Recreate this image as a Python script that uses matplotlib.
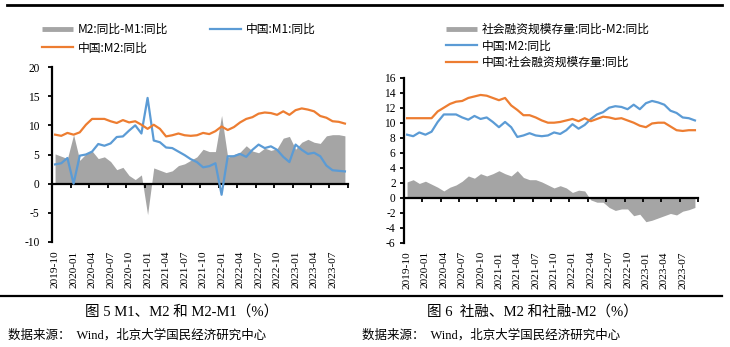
import numpy as np
import pandas as pd
import matplotlib
matplotlib.use("Agg")
import matplotlib.pyplot as plt
from matplotlib.lines import Line2D

plt.rcParams["font.family"] = ["Liberation Serif", "Noto Sans CJK SC"]
plt.rcParams["axes.unicode_minus"] = False

# Monthly observations, 2019-10 .. 2023-09
months = [p.strftime("%Y-%m") for p in pd.period_range("2019-10", "2023-09", freq="M")]
tick_labels = ["2019-10", "2020-01", "2020-04", "2020-07", "2020-10",
               "2021-01", "2021-04", "2021-07", "2021-10", "2022-01",
               "2022-04", "2022-07", "2022-10", "2023-01", "2023-04",
               "2023-07"]

m1_yoy = [3.3, 3.5, 4.4, 0.0, 4.8, 5.0, 5.5, 6.8, 6.5, 6.9, 8.0, 8.1,
          9.1, 10.0, 8.6, 14.7, 7.4, 7.1, 6.2, 6.1, 5.5, 4.9, 4.2, 3.7,
          2.8, 3.0, 3.5, -1.9, 4.7, 4.7, 5.1, 4.6, 5.8, 6.7, 6.1, 6.4,
          5.8, 4.6, 3.7, 6.7, 5.8, 5.1, 5.3, 4.7, 3.1, 2.3, 2.2, 2.1]
m2_yoy = [8.4, 8.2, 8.7, 8.4, 8.8, 10.1, 11.1, 11.1, 11.1, 10.7, 10.4, 10.9,
          10.5, 10.7, 10.1, 9.4, 10.1, 9.4, 8.1, 8.3, 8.6, 8.3, 8.2, 8.3,
          8.7, 8.5, 9.0, 9.8, 9.2, 9.7, 10.5, 11.1, 11.4, 12.0, 12.2, 12.1,
          11.8, 12.4, 11.8, 12.6, 12.9, 12.7, 12.4, 11.6, 11.3, 10.7, 10.6, 10.3]
m2_minus_m1 = [5.1, 4.7, 4.3, 8.4, 4.0, 5.1, 5.6, 4.3, 4.6, 3.8, 2.4, 2.8,
               1.4, 0.7, 1.5, -5.3, 2.7, 2.3, 1.9, 2.2, 3.1, 3.4, 4.0, 4.6,
               5.9, 5.5, 5.5, 11.7, 4.5, 5.0, 5.4, 6.5, 5.6, 5.3, 6.1, 5.7,
               6.0, 7.8, 8.1, 5.9, 7.1, 7.6, 7.1, 6.9, 8.2, 8.4, 8.4, 8.2]
tsf_yoy = [10.6, 10.6, 10.6, 10.6, 10.6, 11.5, 12.0, 12.5, 12.8, 12.9, 13.3, 13.5,
           13.7, 13.6, 13.3, 13.0, 13.3, 12.3, 11.7, 11.0, 11.0, 10.7, 10.3, 10.0,
           10.0, 10.1, 10.3, 10.5, 10.2, 10.6, 10.2, 10.5, 10.8, 10.7, 10.5, 10.6,
           10.3, 10.0, 9.6, 9.4, 9.9, 10.0, 10.0, 9.5, 9.0, 8.9, 9.0, 9.0]
tsf_minus_m2 = [2.1, 2.4, 1.9, 2.2, 1.8, 1.4, 0.9, 1.4, 1.7, 2.2, 2.9, 2.6,
                3.2, 2.9, 3.2, 3.6, 3.2, 2.9, 3.6, 2.7, 2.4, 2.4, 2.1, 1.7,
                1.3, 1.6, 1.3, 0.7, 1.0, 0.9, -0.3, -0.6, -0.6, -1.3, -1.7, -1.5,
                -1.5, -2.4, -2.2, -3.2, -3.0, -2.7, -2.4, -2.1, -2.3, -1.8, -1.6, -1.3]

GRAY = "#A5A5A5"
BLUE = "#5B9BD5"
ORANGE = "#ED7D31"
LEGEND_FONT = {"family": ["Noto Sans CJK SC"], "size": 8.5}

W, H = 730, 347
n = len(months)
x = np.arange(n)


def rect(x0, y_top, x1, y_bot):
    return [x0 / W, 1 - y_bot / H, (x1 - x0) / W, (y_bot - y_top) / H]


def style_panel(ax, ylim, yticks, ypad):
    ax.set_xlim(-0.5, n - 0.5)
    ax.set_ylim(*ylim)
    ax.set_yticks(yticks)
    for s in ("top", "right", "bottom"):
        ax.spines[s].set_visible(False)
    ax.spines["left"].set_linewidth(1.6)
    ax.tick_params(axis="y", length=3, width=1.3, direction="out",
                   pad=ypad, labelsize=8.3)
    ax.set_xticks(np.arange(0, n, 3))
    ax.set_xticklabels(tick_labels, rotation=90, fontsize=8.2)
    ax.tick_params(axis="x", length=0, pad=6)
    # horizontal category axis crossing at zero
    frac = (0 - ylim[0]) / (ylim[1] - ylim[0])
    sec = ax.secondary_xaxis(frac)
    sec.set_xticks(np.arange(-0.5, n, 3))
    sec.tick_params(axis="x", length=3, width=1.3, direction="out",
                    labelbottom=False)
    sec.spines["bottom"].set_linewidth(1.6)
    sec.set_zorder(2.5)


fig = plt.figure(figsize=(7.3, 3.47), dpi=100)

# ---- left panel: M1, M2 and M2-M1
ax1 = fig.add_axes(rect(52, 67, 348, 242))
ax1.fill_between(x, 0, m2_minus_m1, color=GRAY, lw=0, zorder=1)
ax1.plot(x, m1_yoy, color=BLUE, lw=1.6, zorder=3)
ax1.plot(x, m2_yoy, color=ORANGE, lw=1.6, zorder=3)
style_panel(ax1, (-10, 20), np.arange(-10, 21, 5), 6)

h_gray = Line2D([], [], color=GRAY, lw=3.5, solid_capstyle="butt")
h_blue = Line2D([], [], color=BLUE, lw=1.6)
h_orange = Line2D([], [], color=ORANGE, lw=1.6)
fig.legend([h_gray, h_orange, h_blue],
           ["M2:同比-M1:同比", "中国:M2:同比", "中国:M1:同比"],
           ncol=2, loc="upper left", bbox_to_anchor=(42 / W, 1 - 23 / H),
           bbox_transform=fig.transFigure, frameon=False, prop=LEGEND_FONT,
           handlelength=2.6, handletextpad=0.4, columnspacing=3.6,
           labelspacing=0.45, borderaxespad=0, borderpad=0)

# ---- right panel: TSF, M2 and TSF-M2
ax2 = fig.add_axes(rect(404, 77.7, 698, 242.7))
ax2.fill_between(x, 0, tsf_minus_m2, color=GRAY, lw=0, zorder=1)
ax2.plot(x, m2_yoy, color=BLUE, lw=1.6, zorder=3)
ax2.plot(x, tsf_yoy, color=ORANGE, lw=1.6, zorder=3)
style_panel(ax2, (-6, 16), np.arange(-6, 17, 2), 3)

fig.legend([Line2D([], [], color=GRAY, lw=3.5, solid_capstyle="butt"),
            Line2D([], [], color=BLUE, lw=1.6),
            Line2D([], [], color=ORANGE, lw=1.6)],
           ["社会融资规模存量:同比-M2:同比", "中国:M2:同比", "中国:社会融资规模存量:同比"],
           ncol=1, loc="upper left", bbox_to_anchor=(446 / W, 1 - 23 / H),
           bbox_transform=fig.transFigure, frameon=False, prop=LEGEND_FONT,
           handlelength=2.6, handletextpad=0.4,
           labelspacing=0.3, borderaxespad=0, borderpad=0)

# ---- frame rules, captions and sources
fig.add_artist(Line2D([7 / W, 722 / W], [1 - 4.7 / H] * 2, color="black",
                      lw=2.0, transform=fig.transFigure))
fig.add_artist(Line2D([1 / W, 722 / W], [1 - 295.5 / H] * 2, color="black",
                      lw=1.6, transform=fig.transFigure))

cap_font = ["Liberation Serif", "Noto Sans CJK SC"]
fig.text(182 / W, 1 - 311.5 / H, "图 5 M1、M2 和 M2-M1（%）", ha="center",
         va="center", fontsize=10.5, family=cap_font)
fig.text(532 / W, 1 - 311.5 / H, "图 6  社融、M2 和社融-M2（%）", ha="center",
         va="center", fontsize=10.5, family=cap_font)
fig.text(8 / W, 1 - 335 / H, "数据来源：  Wind，北京大学国民经济研究中心",
         ha="left", va="center", fontsize=9, family=cap_font)
fig.text(362 / W, 1 - 335 / H, "数据来源：  Wind，北京大学国民经济研究中心",
         ha="left", va="center", fontsize=9, family=cap_font)

fig.savefig("out.png", dpi=100)
